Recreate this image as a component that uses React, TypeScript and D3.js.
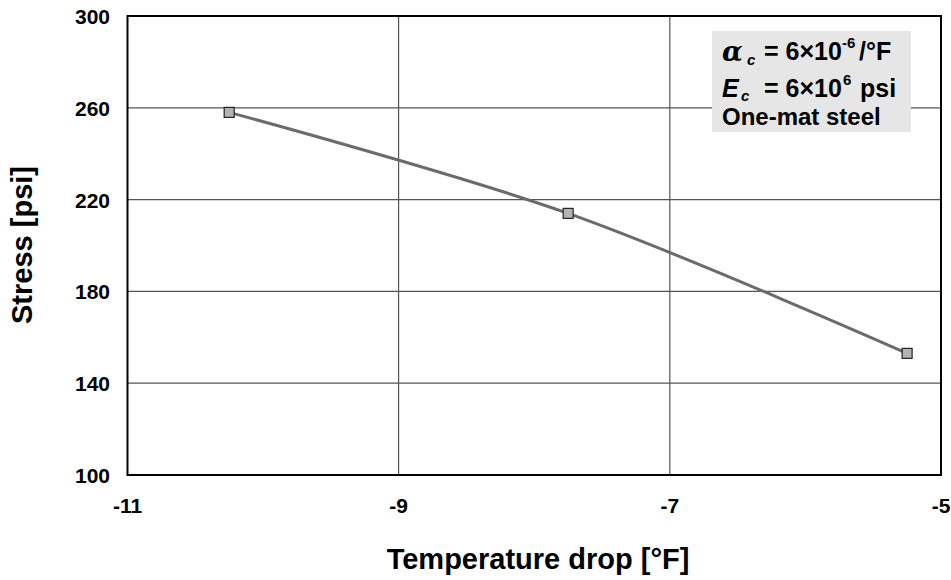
import React from "react";
import * as d3 from "d3";

const tempDrop = [-10.25, -7.75, -5.25];
const stress = [258, 214, 153];
const xTicks = [-11, -9, -7, -5];
const yTicks = [100, 140, 180, 220, 260, 300];

const W = 951;
const H = 580;
const M = { left: 127.5, right: 941, top: 16, bottom: 475 };

export default function App() {
  const x = d3.scaleLinear().domain([-11, -5]).range([M.left, M.right]);
  const y = d3.scaleLinear().domain([100, 300]).range([M.bottom, M.top]);
  const pts: [number, number][] = tempDrop.map((t, i) => [t, stress[i]]);
  const line = d3
    .line<[number, number]>()
    .x((d) => x(d[0]))
    .y((d) => y(d[1]))
    .curve(d3.curveCatmullRom.alpha(0.5));
  const font = "'Liberation Sans', Arial, sans-serif";
  const lf = 25;
  return (
    <svg
      width={W}
      height={H}
      style={{ position: "absolute", left: 0, top: 0 }}
      fontFamily={font}
      fontWeight="bold"
    >
      <rect width={W} height={H} fill="#fff" />
      {/* grid */}
      {xTicks.slice(1, -1).map((t) => (
        <line key={"gx" + t} x1={x(t)} x2={x(t)} y1={M.top} y2={M.bottom} stroke="#333" strokeWidth={1} />
      ))}
      {yTicks.slice(1, -1).map((t) => (
        <line key={"gy" + t} x1={M.left} x2={M.right} y1={y(t)} y2={y(t)} stroke="#555" strokeWidth={1.2} />
      ))}
      {/* parameter box */}
      <rect x={712} y={31} width={199} height={101} fill="#e6e6e6" />
      <g fontSize={lf}>
        <text x={722} y={61} fontSize={27} fontStyle="italic" fontFamily="'DejaVu Serif', serif">α</text>
        <text x={747} y={65} fontSize={15} fontStyle="italic">c</text>
        <text x={764} y={60}>= 6×10</text>
        <text x={842} y={48} fontSize={15}>-6</text>
        <text x={859} y={60}>/°F</text>

        <text x={722} y={97} fontStyle="italic">E</text>
        <text x={741} y={101} fontSize={15} fontStyle="italic">c</text>
        <text x={764} y={97}>= 6×10</text>
        <text x={843} y={85} fontSize={15}>6</text>
        <text x={860} y={97}>psi</text>

        <text x={722} y={125} fontSize={24}>One-mat steel</text>
      </g>
      {/* series */}
      <path d={line(pts) || ""} fill="none" stroke="#6b6b6b" strokeWidth={3} />
      {pts.map((p, i) => (
        <rect
          key={i}
          x={x(p[0]) - 5}
          y={y(p[1]) - 5}
          width={10}
          height={10}
          fill="#b3b3b3"
          stroke="#222"
          strokeWidth={1.2}
        />
      ))}
      {/* frame */}
      <rect
        x={M.left}
        y={M.top}
        width={M.right - M.left}
        height={M.bottom - M.top}
        fill="none"
        stroke="#000"
        strokeWidth={2}
      />
      {/* tick labels */}
      {yTicks.map((t) => (
        <text key={"yl" + t} x={110} y={y(t) + 8} fontSize={21} textAnchor="end">
          {t}
        </text>
      ))}
      {xTicks.map((t) => (
        <text key={"xl" + t} x={x(t)} y={513} fontSize={21} textAnchor="middle">
          {t}
        </text>
      ))}
      <text x={538} y={569} fontSize={29} textAnchor="middle">
        Temperature drop [°F]
      </text>
      <text
        transform={`translate(32, 245) rotate(-90)`}
        fontSize={29}
        textAnchor="middle"
      >
        Stress [psi]
      </text>
    </svg>
  );
}
